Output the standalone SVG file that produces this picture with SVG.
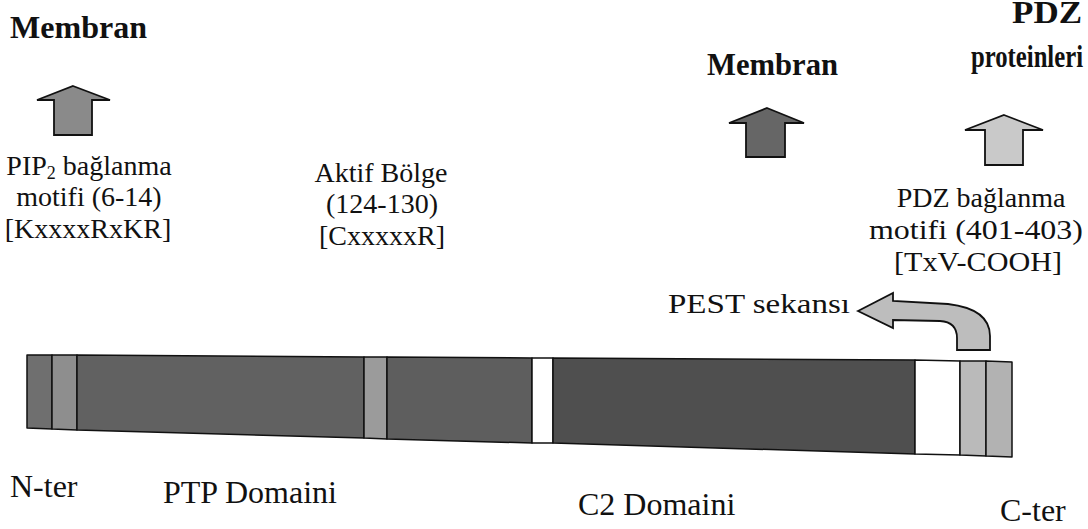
<svg xmlns="http://www.w3.org/2000/svg" width="1088" height="529" viewBox="0 0 1088 529">
<style>
  .t { font-family: "Liberation Serif", "Times New Roman", serif; font-size: 28px; fill: #111; }
  .h { font-family: "Liberation Serif", "Times New Roman", serif; font-size: 31px; font-weight: bold; fill: #111; }
  .c { text-anchor: middle; }
  .b { font-size: 32px; }
  .seg { stroke: #111; stroke-width: 1.5; stroke-linejoin: round; }
  .arr { stroke: #111; stroke-width: 1.8; stroke-linejoin: miter; }
</style>
<rect width="1088" height="529" fill="#fff"/>

<g id="labels-top">
  <text class="h" x="10" y="38" textLength="137" lengthAdjust="spacingAndGlyphs">Membran</text>
  <text class="h" x="707" y="75" textLength="131" lengthAdjust="spacingAndGlyphs">Membran</text>
  <text class="h" x="1012" y="23" textLength="70" lengthAdjust="spacingAndGlyphs">PDZ</text>
  <text class="h" x="971" y="67" textLength="112" lengthAdjust="spacingAndGlyphs">proteinleri</text>
</g>

<g id="connectors">
  <polygon id="arrow-pip2" class="arr" fill="#8a8a8a" points="73,86 110,100 92,100 92,135 54,135 54,100 37,100"/>
  <polygon id="arrow-c2" class="arr" fill="#666666" points="767,108 804,123 785,123 785,157 746,157 746,123 729,123"/>
  <polygon id="arrow-pdz" class="arr" fill="#c9c9c9" points="1004,115 1043,130 1023,130 1023,165 985,165 985,130 965,130"/>
  <path id="arrow-pest" class="arr" fill="#bdbdbd" d="M858,311 L893,293 L893,301 L948,304 Q990,309 990,336 L990,350 L957,350 L957,338 Q957,322 940,321 L893,320 L893,328 Z"/>
</g>

<g id="node-bar">
  <polygon class="seg" fill="#6f6f6f" points="27,355 52,355 52,429 27,428"/>
  <polygon class="seg" fill="#8e8e8e" points="52,355 77,355 77,430 52,429"/>
  <polygon class="seg" fill="#616161" points="77,355 364,357 364,438 77,430"/>
  <polygon class="seg" fill="#9b9b9b" points="364,357 387,357 387,439 364,438"/>
  <polygon class="seg" fill="#5e5e5e" points="387,357 532,358 532,443 387,439"/>
  <polygon class="seg" fill="#ffffff" points="532,358 553,358 553,443 532,443"/>
  <polygon class="seg" fill="#4f4f4f" points="553,358 915,360 915,454 553,443"/>
  <polygon class="seg" fill="#ffffff" points="915,360 960,361 960,455 915,454"/>
  <polygon class="seg" fill="#bababa" points="960,361 986,361 986,456 960,455"/>
  <polygon class="seg" fill="#b2b2b2" points="986,361 1012,362 1012,457 986,456"/>
</g>

<g id="node-pip2">
  <text class="t c" x="89" y="175">PIP<tspan font-size="18" dy="4">2</tspan><tspan dy="-4"> bağlanma</tspan></text>
  <text class="t c" x="89" y="206">motifi (6-14)</text>
  <text class="t c" x="88" y="238">[KxxxxRxKR]</text>
</g>

<g id="node-aktif">
  <text class="t c" x="381" y="182" font-size="29">Aktif Bölge</text>
  <text class="t c" x="382" y="213" font-size="29">(124-130)</text>
  <text class="t c" x="382" y="245" font-size="29">[CxxxxxR]</text>
</g>

<g id="node-pdz">
  <text class="t c" x="981" y="207" font-size="30">PDZ bağlanma</text>
  <text class="t c" x="976" y="239" font-size="30" textLength="214" lengthAdjust="spacingAndGlyphs">motifi (401-403)</text>
  <text class="t c" x="978" y="271" font-size="30" textLength="168" lengthAdjust="spacingAndGlyphs">[TxV-COOH]</text>
</g>

<g id="node-pest">
  <text class="t" x="668" y="313" font-size="30" textLength="182" lengthAdjust="spacingAndGlyphs">PEST sekansı</text>
</g>

<g id="labels-bottom">
  <text class="t b" x="10" y="497">N-ter</text>
  <text class="t b" x="163" y="503">PTP Domaini</text>
  <text class="t b" x="578" y="515">C2 Domaini</text>
  <text class="t b" x="1000" y="521">C-ter</text>
</g>
</svg>
